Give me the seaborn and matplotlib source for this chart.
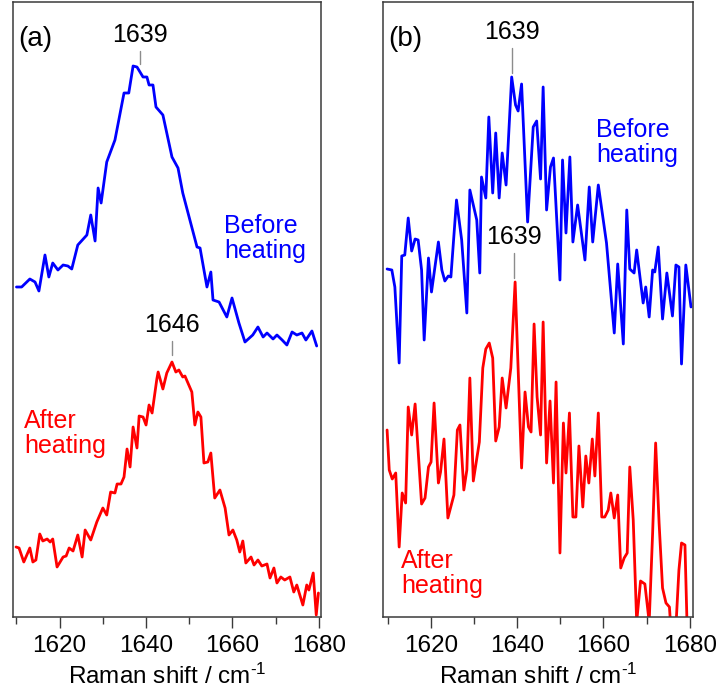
#!/usr/bin/env python
# coding: utf-8

"""
Raman spectra (amide I region) before and after heating, two panels
"""

import numpy as np
import pandas as pd
import matplotlib
matplotlib.use("Agg")
import matplotlib.pyplot as plt
import seaborn as sns

# Panel (a): spectra, x in cm-1, intensity in arbitrary units
a_before_x = [1610.0, 1611.2, 1613.1, 1614.3, 1615.2, 1616.6, 1617.5, 1618.4, 1619.6, 1620.8,
              1621.9, 1622.8, 1624.2, 1626.3, 1627.2, 1628.2, 1628.9, 1629.6, 1630.9, 1632.8,
              1634.9, 1636.0, 1637.0, 1637.9, 1639.3, 1640.2, 1640.7, 1641.6, 1642.3, 1643.9,
              1646.0, 1647.4, 1648.5, 1651.8, 1652.5, 1654.1, 1655.0, 1655.5, 1656.9, 1658.7,
              1659.9, 1661.5, 1662.9, 1664.7, 1665.9, 1667.1, 1668.0, 1669.4, 1670.3, 1671.5,
              1672.6, 1673.8, 1674.9, 1676.1, 1677.0, 1678.4, 1679.5]
a_before_y = [330, 330, 338, 335, 326, 362, 340, 354, 347, 352,
              351, 348, 372, 382, 402, 376, 429, 414, 455, 477,
              524, 524, 551, 550, 540, 540, 532, 532, 510, 502,
              460, 449, 424, 370, 369, 330, 345, 317, 315, 300,
              319, 294, 275, 282, 290, 280, 284, 278, 282, 277,
              272, 285, 282, 284, 277, 286, 271]

a_after_x = [1609.9, 1610.6, 1611.7, 1613.1, 1613.8, 1614.5, 1615.4, 1616.1, 1617.1, 1617.8,
             1618.4, 1619.4, 1620.8, 1621.5, 1622.2, 1623.1, 1624.2, 1625.2, 1625.9, 1627.2,
             1628.6, 1630.0, 1630.9, 1631.8, 1632.8, 1633.3, 1634.2, 1634.9, 1635.6, 1636.3,
             1637.0, 1637.9, 1638.4, 1639.3, 1640.0, 1640.7, 1641.4, 1642.5, 1642.8, 1643.9,
             1644.8, 1646.0, 1646.9, 1647.6, 1648.5, 1649.0, 1650.6, 1651.3, 1652.0, 1652.7,
             1653.4, 1654.3, 1655.0, 1655.9, 1657.1, 1658.3, 1659.2, 1660.1, 1661.0, 1661.7,
             1662.4, 1663.1, 1664.3, 1665.0, 1665.9, 1666.8, 1668.0, 1668.7, 1669.6, 1670.3,
             1671.2, 1672.1, 1673.3, 1674.2, 1674.9, 1676.3, 1677.2, 1677.7, 1678.7, 1679.4,
             1679.9]
a_after_y = [70, 69, 55, 69, 55, 57, 83, 76, 78, 75,
             78, 50, 60, 61, 69, 66, 82, 60, 87, 77,
             95, 109, 102, 125, 124, 133, 133, 140, 168, 150,
             190, 169, 201, 200, 192, 212, 204, 238, 245, 228,
             244, 255, 245, 247, 240, 241, 225, 192, 205, 200,
             154, 155, 164, 119, 127, 109, 82, 87, 77, 65,
             76, 54, 60, 52, 57, 51, 53, 39, 49, 34,
             40, 37, 40, 25, 32, 12, 32, 27, 44, 2,
             24]

# Panel (b)
b_before_x = [1609.8, 1610.9, 1611.6, 1612.6, 1613.2, 1613.9, 1614.7, 1615.5, 1616.3, 1617.0,
              1617.8, 1618.4, 1619.4, 1620.1, 1621.7, 1622.5, 1623.2, 1624.0, 1624.6, 1625.9,
              1627.1, 1628.3, 1629.0, 1630.6, 1631.3, 1631.7, 1632.7, 1633.4, 1634.3, 1635.0,
              1635.8, 1636.5, 1637.4, 1638.7, 1639.6, 1640.2, 1641.0, 1642.4, 1643.7, 1644.5,
              1645.4, 1646.0, 1646.8, 1647.7, 1648.4, 1649.9, 1650.5, 1651.3, 1652.2, 1652.9,
              1654.0, 1655.7, 1656.7, 1657.5, 1658.8, 1660.7, 1662.5, 1663.3, 1664.6, 1665.4,
              1666.1, 1667.1, 1667.7, 1669.2, 1669.8, 1670.6, 1671.4, 1671.9, 1672.7, 1673.7,
              1674.7, 1676.0, 1676.8, 1677.5, 1678.1, 1679.1, 1680.3]
b_before_y = [348, 347, 330, 254, 361, 362, 399, 366, 378, 377,
              347, 277, 359, 325, 375, 347, 336, 341, 340, 417,
              377, 304, 427, 397, 344, 440, 419, 500, 424, 484,
              419, 464, 432, 540, 512, 506, 533, 395, 490, 496,
              438, 530, 407, 450, 459, 337, 457, 384, 460, 375,
              412, 357, 430, 375, 432, 374, 284, 353, 273, 407,
              348, 344, 367, 314, 330, 300, 347, 345, 370, 298,
              344, 301, 352, 350, 253, 352, 310]

b_after_x = [1609.8, 1610.3, 1611.0, 1611.8, 1612.6, 1613.3, 1614.1, 1614.7, 1615.5, 1616.3,
             1617.8, 1618.6, 1619.4, 1620.0, 1620.7, 1621.7, 1622.2, 1623.0, 1623.9, 1625.3,
             1626.1, 1626.7, 1627.6, 1628.3, 1629.0, 1629.8, 1631.2, 1632.0, 1632.7, 1633.5,
             1634.3, 1635.0, 1635.8, 1636.5, 1637.4, 1638.5, 1639.5, 1641.0, 1641.8, 1642.6,
             1643.2, 1643.9, 1644.6, 1645.4, 1646.0, 1646.8, 1647.6, 1648.4, 1649.0, 1649.9,
             1650.7, 1651.3, 1652.1, 1652.9, 1653.6, 1654.3, 1655.2, 1655.9, 1656.6, 1657.4,
             1658.0, 1658.8, 1659.6, 1660.3, 1661.1, 1661.7, 1662.5, 1663.3, 1664.0, 1664.8,
             1665.5, 1666.1, 1666.9, 1667.7, 1668.6, 1669.6, 1670.6, 1671.4, 1672.1, 1672.9,
             1673.7, 1674.5, 1675.3, 1675.6, 1676.2, 1676.8, 1677.5, 1678.1, 1678.9, 1679.4]
b_after_y = [187, 147, 138, 144, 70, 124, 114, 210, 182, 213,
             113, 119, 150, 155, 214, 134, 145, 178, 99, 122,
             187, 192, 127, 147, 239, 136, 175, 249, 268, 274,
             259, 176, 190, 239, 209, 249, 335, 149, 225, 190,
             185, 293, 220, 182, 295, 154, 216, 134, 235, 64,
             194, 144, 204, 100, 100, 171, 110, 161, 134, 178,
             141, 204, 100, 100, 107, 124, 99, 122, 49, 59,
             64, 150, 97, -5, 36, 33, -5, 84, 174, 94,
             29, 14, 10, -10, -30, -10, 47, 74, 72, -10]

# peak labels
peak_panel = ["a", "a", "b", "b"]
peak_x = [1638.6, 1646.0, 1638.8, 1639.3]
peak_text = ["1639", "1646", "1639", "1639"]
peak_line_lo = [553, 262, 544, 339]
peak_line_hi = [566, 276, 569, 364]

BLUE = "#0000FF"
RED = "#FF0000"
FRAME = "#3a3a3a"

sns.set_style("ticks")
plt.rcParams["font.family"] = ["Liberation Sans", "DejaVu Sans"]
plt.rcParams["mathtext.fontset"] = "custom"
plt.rcParams["mathtext.rm"] = "Liberation Sans"
plt.rcParams["mathtext.default"] = "regular"
plt.rcParams["text.color"] = "black"
plt.rcParams["axes.labelcolor"] = "black"
plt.rcParams["xtick.labelcolor"] = "black"


def draw_panel(ax, bx, by, rx, ry, xlim, tag):
    df_b = pd.DataFrame({"shift": bx, "intensity": by})
    df_r = pd.DataFrame({"shift": rx, "intensity": ry})
    sns.lineplot(data=df_b, x="shift", y="intensity", color=BLUE, linewidth=2.0,
                 estimator=None, sort=False, ax=ax)
    sns.lineplot(data=df_r, x="shift", y="intensity", color=RED, linewidth=2.0,
                 estimator=None, sort=False, ax=ax)
    ax.set_xlim(*xlim)
    ax.set_ylim(0, 615)
    ax.set_yticks([])
    ax.set_ylabel("")
    ax.set_xticks([1620, 1640, 1660, 1680])
    ax.set_xticks([1610, 1630, 1650, 1670], minor=True)
    ax.tick_params(axis="x", which="major", direction="out", length=8, width=1,
                   color=FRAME, labelsize=17.5, pad=5, labelcolor="black")
    ax.tick_params(axis="x", which="minor", direction="out", length=5, width=1, color=FRAME)
    ax.set_xlabel(r"Raman shift / cm$^{\text{-}1}$", fontsize=17.5, labelpad=5)
    for sp in ax.spines.values():
        sp.set_visible(True)
        sp.set_color(FRAME)
        sp.set_linewidth(1.1)
    ax.text(0.017, 0.94, tag, transform=ax.transAxes, fontsize=20,
            ha="left", va="center")


fig = plt.figure(figsize=(7.24, 6.95), dpi=100)
ax_a = fig.add_axes([13 / 724, 78 / 695, 308 / 724, 615 / 695])
ax_b = fig.add_axes([383 / 724, 78 / 695, 309.5 / 724, 615 / 695])

draw_panel(ax_a, a_before_x, a_before_y, a_after_x, a_after_y, (1609.2, 1680.5), "(a)")
draw_panel(ax_b, b_before_x, b_before_y, b_after_x, b_after_y, (1608.85, 1680.65), "(b)")

ax_a.text(0.685, 0.615, "Before\nheating", color=BLUE, fontsize=18,
          transform=ax_a.transAxes, ha="left", va="center", linespacing=1.05)
ax_a.text(0.036, 0.298, "After\nheating", color=RED, fontsize=18,
          transform=ax_a.transAxes, ha="left", va="center", linespacing=1.05)
ax_b.text(0.688, 0.771, "Before\nheating", color=BLUE, fontsize=18,
          transform=ax_b.transAxes, ha="left", va="center", linespacing=1.05)
ax_b.text(0.058, 0.07, "After\nheating", color=RED, fontsize=18,
          transform=ax_b.transAxes, ha="left", va="center", linespacing=1.05)

axes = {"a": ax_a, "b": ax_b}
for p, x, t, lo, hi in zip(peak_panel, peak_x, peak_text, peak_line_lo, peak_line_hi):
    ax = axes[p]
    ax.plot([x, x], [lo, hi], color="#8c8c8c", linewidth=1)
    ax.text(x, hi + 4, t, ha="center", va="bottom", fontsize=18)

plt.savefig("out.png", dpi=100)
plt.close()
